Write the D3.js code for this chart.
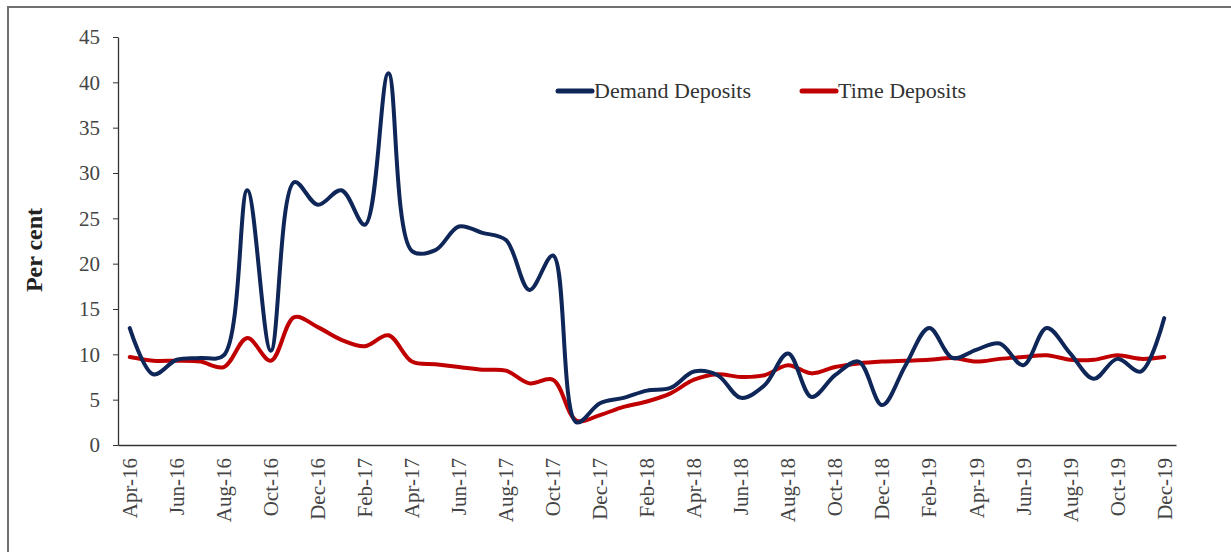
<!DOCTYPE html>
<html>
<head>
<meta charset="utf-8">
<script src="https://cdnjs.cloudflare.com/ajax/libs/d3/7.8.5/d3.min.js"></script>
<style>
  body { margin: 0; background: #fff; }
  text { font-family: "Liberation Serif", "Times New Roman", serif; }
</style>
</head>
<body>
<div id="chart"></div>
<script>
// data
var months = ["Apr-16","May-16","Jun-16","Jul-16","Aug-16","Sep-16","Oct-16","Nov-16","Dec-16","Jan-17","Feb-17","Mar-17",
  "Apr-17","May-17","Jun-17","Jul-17","Aug-17","Sep-17","Oct-17","Nov-17","Dec-17","Jan-18","Feb-18","Mar-18",
  "Apr-18","May-18","Jun-18","Jul-18","Aug-18","Sep-18","Oct-18","Nov-18","Dec-18","Jan-19","Feb-19","Mar-19",
  "Apr-19","May-19","Jun-19","Jul-19","Aug-19","Sep-19","Oct-19","Nov-19","Dec-19"];

var demandDeposits = [12.9, 7.8, 9.4, 9.6, 9.9, 28.1, 10.4, 29.0, 26.5, 28.1, 24.3, 41.0,
  21.4, 21.5, 24.1, 23.4, 22.6, 17.1, 20.9, 2.5, 4.6, 5.2, 6.0, 6.3,
  8.1, 7.7, 5.2, 6.6, 10.1, 5.3, 7.7, 9.2, 4.4, 8.8, 12.9, 9.6,
  10.5, 11.2, 8.8, 12.9, 10.1, 7.3, 9.5, 8.1, 14.0];

var timeDeposits = [9.7, 9.3, 9.3, 9.2, 8.6, 11.8, 9.3, 14.1, 13.0, 11.6, 10.9, 12.1,
  9.2, 8.9, 8.6, 8.3, 8.2, 6.8, 7.2, 2.7, 3.3, 4.2, 4.8, 5.7,
  7.2, 7.8, 7.5, 7.7, 8.8, 7.9, 8.6, 9.0, 9.2, 9.3, 9.4, 9.6,
  9.2, 9.5, 9.7, 9.9, 9.4, 9.4, 9.9, 9.5, 9.7];

var yTicks = [0, 5, 10, 15, 20, 25, 30, 35, 40, 45];
var xTickLabels = months.filter(function(d, i) { return i % 2 === 0; });

var seriesNames = ["Demand Deposits", "Time Deposits"];
var seriesColors = ["#0f2658", "#c00000"];

var width = 1231, height = 552;

var svg = d3.select("#chart")
  .append("svg")
  .attr("width", width)
  .attr("height", height);

// frame (only top and left edges show)
svg.append("rect")
  .attr("x", 8).attr("y", 7)
  .attr("width", 1260).attr("height", 600)
  .attr("fill", "none")
  .attr("stroke", "#707070")
  .attr("stroke-width", 2);

var x = d3.scaleBand()
  .domain(months)
  .range([118, 1176]);

var y = d3.scaleLinear()
  .domain([0, 45])
  .range([445, 37]);

function cx(d) { return x(d) + x.bandwidth() / 2; }

// Y axis
var yAxis = svg.append("g")
  .attr("transform", "translate(118,0)")
  .call(d3.axisLeft(y).tickValues(yTicks).tickSize(5).tickPadding(13).tickSizeOuter(0));
yAxis.select(".domain").attr("stroke", "#333").attr("stroke-width", 1.3);
yAxis.selectAll(".tick line").attr("stroke", "#333");
yAxis.selectAll("text")
  .attr("font-size", 21)
  .attr("fill", "#444")
  .style("font-family", "Liberation Serif");

// X axis
var xAxis = svg.append("g")
  .attr("transform", "translate(0,445)")
  .call(d3.axisBottom(x).tickValues(xTickLabels).tickSize(0).tickSizeOuter(0));
xAxis.select(".domain").attr("stroke", "#333").attr("stroke-width", 1.3);
xAxis.selectAll("text")
  .attr("font-size", 21)
  .attr("fill", "#444")
  .style("font-family", "Liberation Serif")
  .attr("transform", "rotate(-90)")
  .attr("text-anchor", "end")
  .attr("x", -13)
  .attr("y", 0)
  .attr("dy", "0.35em");

// axis title
svg.append("text")
  .attr("transform", "translate(42,250) rotate(-90)")
  .attr("text-anchor", "middle")
  .attr("font-size", 24)
  .attr("font-weight", "bold")
  .attr("fill", "#222")
  .text("Per cent");

// lines
var line = d3.line()
  .x(function(d, i) { return cx(months[i]); })
  .y(function(d) { return y(d); })
  .curve(d3.curveCatmullRom.alpha(0.5));

[timeDeposits, demandDeposits].forEach(function(values, k) {
  var idx = k === 0 ? 1 : 0;
  svg.append("path")
    .datum(values)
    .attr("fill", "none")
    .attr("stroke", seriesColors[idx])
    .attr("stroke-width", 4)
    .attr("stroke-linejoin", "round")
    .attr("stroke-linecap", "round")
    .attr("d", line);
});

// legend
var legendX = [558, 802];
var legend = svg.append("g");
seriesNames.forEach(function(name, i) {
  legend.append("line")
    .attr("x1", legendX[i]).attr("x2", legendX[i] + 34)
    .attr("y1", 91).attr("y2", 91)
    .attr("stroke", seriesColors[i])
    .attr("stroke-width", 5)
    .attr("stroke-linecap", "round");
  legend.append("text")
    .attr("x", legendX[i] + 36)
    .attr("y", 98)
    .attr("font-size", 22)
    .attr("fill", "#333")
    .text(name);
});
</script>
</body>
</html>
